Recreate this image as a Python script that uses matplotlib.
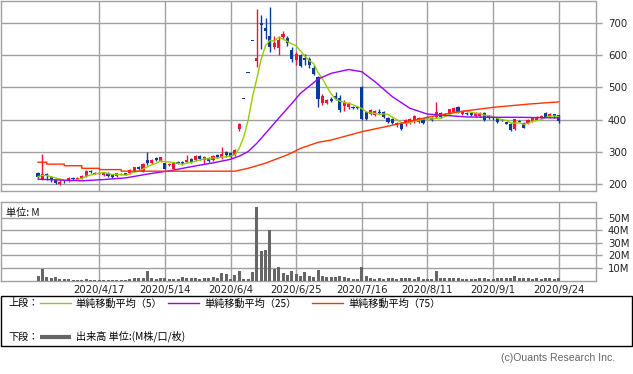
import matplotlib
matplotlib.use("Agg")
import matplotlib.pyplot as plt
import numpy as np
import pandas as pd
from matplotlib.lines import Line2D
from matplotlib.patches import Rectangle

# ---------------- data ----------------
opens = [232, 215, 229, 220, 212, 200, 210, 207, 218, 213,
         217, 225, 241, 234, 231, 226, 232, 227, 224, 232,
         232, 232, 240, 253, 238, 274, 265, 279, 270, 263,
         257, 247, 268, 268, 267, 277, 273, 286, 273, 281,
         275, 290, 279, 300, 296, 290, 370, 466, 546, 646,
         582, 700, 685, 660, 627, 623, 658, 655, 617, 584,
         600, 591, 590, 560, 532, 452, 453, 465, 474, 468,
         443, 438, 440, 438, 500, 422, 417, 415, 425, 423,
         406, 401, 383, 386, 386, 389, 394, 392, 404, 409,
         404, 409, 420, 418, 417, 425, 440, 417, 421, 419,
         411, 410, 420, 410, 408, 404, 401, 391, 385, 370,
         396, 390, 389, 394, 400, 404, 420, 407, 416, 413]
highs = [236, 293, 233, 225, 215, 210, 212, 222, 221, 221,
         226, 243, 244, 236, 236, 237, 238, 229, 234, 234,
         234, 245, 253, 256, 263, 298, 276, 284, 284, 266,
         264, 267, 271, 272, 288, 280, 288, 289, 285, 284,
         288, 293, 315, 303, 300, 308, 388, 466, 546, 646,
         746, 725, 715, 752, 660, 660, 675, 660, 627, 610,
         605, 604, 596, 570, 535, 480, 465, 470, 487, 475,
         462, 455, 443, 441, 505, 425, 432, 430, 433, 426,
         408, 404, 392, 390, 402, 405, 413, 408, 406, 412,
         408, 456, 424, 420, 434, 438, 442, 428, 423, 421,
         424, 422, 422, 413, 411, 406, 403, 393, 388, 403,
         400, 392, 401, 406, 410, 414, 423, 419, 418, 415]
lows = [217, 213, 213, 206, 198, 196, 203, 204, 212, 211,
        215, 222, 233, 229, 229, 224, 220, 218, 222, 228,
        226, 230, 238, 243, 236, 258, 262, 270, 268, 245,
        254, 245, 260, 259, 264, 266, 270, 275, 260, 268,
        272, 279, 277, 284, 279, 285, 365, 466, 546, 646,
        565, 620, 650, 610, 620, 600, 650, 630, 580, 570,
        563, 570, 560, 540, 440, 444, 448, 455, 460, 425,
        428, 432, 433, 432, 398, 398, 415, 410, 416, 405,
        388, 385, 378, 368, 380, 385, 390, 388, 386, 401,
        396, 405, 404, 410, 414, 422, 420, 414, 413, 411,
        409, 407, 396, 403, 400, 388, 395, 385, 364, 366,
        392, 373, 386, 391, 398, 402, 407, 405, 405, 390]
closes = [222, 230, 224, 211, 203, 206, 207, 218, 215, 219,
          224, 241, 235, 231, 233, 235, 224, 220, 232, 230,
          228, 243, 251, 245, 261, 264, 274, 274, 282, 247,
          262, 265, 262, 263, 273, 269, 286, 277, 283, 271,
          286, 282, 293, 288, 283, 304, 386, 466, 546, 646,
          591, 694, 676, 626, 637, 648, 666, 640, 590, 604,
          568, 586, 570, 543, 465, 473, 461, 459, 463, 430,
          452, 448, 436, 435, 401, 401, 430, 428, 420, 409,
          391, 389, 390, 372, 399, 402, 411, 405, 389, 404,
          399, 422, 407, 413, 432, 435, 423, 425, 416, 414,
          421, 419, 399, 406, 404, 391, 398, 387, 368, 401,
          395, 375, 399, 404, 408, 412, 409, 417, 410, 395]
volumes_m = [3.4, 9.5, 2.6, 1.9, 2.4, 1.5, 1.3, 1.2, 0.6, 0.5,
             0.5, 0.9, 0.6, 0.5, 0.4, 0.4, 0.4, 0.3, 0.3, 0.4,
             0.6, 1.3, 2.0, 1.6, 2.2, 7.4, 1.9, 1.5, 1.7, 2.1,
             1.3, 1.3, 0.8, 2.4, 1.6, 2.1, 2.1, 1.4, 2.0, 1.8,
             2.4, 1.6, 5.6, 4.8, 1.0, 4.5, 7.4, 0.8, 1.2, 6.6,
             58.2, 23.3, 24.1, 40.0, 9.3, 10.6, 6.1, 4.2, 7.4, 5.0,
             3.4, 6.4, 3.4, 2.6, 8.2, 3.4, 2.4, 2.4, 2.4, 3.4,
             2.4, 1.9, 1.3, 0.8, 10.6, 3.4, 1.9, 1.3, 1.6, 1.3,
             1.9, 1.9, 1.3, 1.9, 1.9, 1.6, 1.3, 2.4, 1.3, 1.3,
             0.8, 7.4, 1.6, 1.9, 1.9, 1.9, 1.6, 1.3, 1.3, 1.3,
             1.3, 1.6, 1.9, 1.3, 1.3, 1.6, 1.6, 1.9, 1.9, 3.2,
             2.1, 1.6, 1.9, 1.3, 1.6, 1.3, 1.9, 1.6, 1.3, 1.6]

# moving averages (trading-day index, price)
ma25_idx = [0, 10, 15, 20, 25, 30, 35, 40, 44, 46, 48, 50, 52, 55, 58, 60,
            64, 67, 71, 74, 77, 81, 85, 89, 92, 98, 104, 110, 119]
ma25_val = [214, 209, 213, 218, 230, 240, 253, 265, 276, 286, 300, 326, 357,
            404, 450, 482, 526, 544, 556, 549, 518, 471, 435, 417, 414, 408,
            407, 407, 405]
ma75_idx = [0, 2, 2, 6, 6, 10, 10, 14, 14, 19, 19, 45, 48, 52, 57, 60, 64,
            67, 74, 83, 89, 96, 104, 112, 119]
ma75_val = [267, 267, 261, 261, 256, 256, 248, 248, 244, 244, 239, 239, 248,
            264, 290, 310, 329, 336, 362, 388, 407, 424, 438, 448, 455]

date_ticks = [14, 29, 44, 59, 74, 89, 104, 119]
date_labels = ["2020/4/17", "2020/5/14", "2020/6/4", "2020/6/25",
               "2020/7/16", "2020/8/11", "2020/9/1", "2020/9/24"]
price_ticks = [200, 300, 400, 500, 600, 700]
vol_ticks = [10, 20, 30, 40, 50]
vol_labels = ["10M", "20M", "30M", "40M", "50M"]

# ---------------- styling ----------------
W, H = 633, 374
RED = "#F0143C"
BLUE = "#083C9C"
GRID = "#a0a0a0"
C5, C25, C75 = "#99CC00", "#9900FF", "#FF3300"
JP = ["Noto Sans CJK JP", "DejaVu Sans"]

def fx(x):
    return x / W

def fy(y):
    return 1 - y / H

fig = plt.figure(figsize=(W / 100, H / 100), dpi=100)

L, R = 1, 595.5
ax1 = fig.add_axes([fx(L), fy(190.7), fx(R) - fx(L), fy(0.5) - fy(190.7)])
ax2 = fig.add_axes([fx(L), fy(280.5), fx(R) - fx(L), fy(202.3) - fy(280.5)])

n = len(closes)
idx = np.arange(n)
o = np.array(opens, float)
c = np.array(closes, float)
h = np.array(highs, float)
lo = np.array(lows, float)
up = c > o
cols = np.where(up, RED, BLUE)

xmin = (L - 38.05) / 4.375
xmax = (R - 38.05) / 4.375

for ax in (ax1, ax2):
    ax.set_xlim(xmin, xmax)
    for s in ax.spines.values():
        s.set_color(GRID)
        s.set_linewidth(1.0)
    ax.set_axisbelow(True)
    ax.set_xticks(date_ticks)
    ax.grid(True, color=GRID, linewidth=1.0)
    ax.tick_params(axis="x", length=0)
    ax.yaxis.tick_right()
    ax.tick_params(axis="y", direction="out", length=4, width=1.0,
                   color=GRID, pad=5, labelsize=7.3, labelcolor="#222222")

# candles
ax1.vlines(idx, lo, h, colors=cols, linewidth=1.0, zorder=3)
body_h = np.maximum(np.abs(c - o), 2.6)
ax1.bar(idx, body_h, bottom=np.minimum(o, c) - np.where(np.abs(c - o) < 2.6, 1.3, 0),
        width=0.72, color=cols, linewidth=0, zorder=4)

ma5 = pd.Series(closes).rolling(5, min_periods=1).mean()
ax1.plot(idx, ma5, color=C5, linewidth=1.0, zorder=5)
ax1.plot(ma25_idx, ma25_val, color=C25, linewidth=1.0, zorder=5)
ax1.plot(ma75_idx, ma75_val, color=C75, linewidth=1.0, zorder=5)

ax1.set_ylim(178.2, 771)
ax1.set_yticks(price_ticks)
ax1.set_yticklabels([str(t) for t in price_ticks])
ax1.set_xticklabels([])

# volume
ax2.bar(idx, volumes_m, width=0.7, color="#666666", linewidth=0, zorder=3)
ax2.set_ylim(0, 62.2)
ax2.set_yticks(vol_ticks)
ax2.set_yticklabels(vol_labels)
ax2.set_xticklabels(date_labels, fontsize=7.3, color="#222222")
ax2.tick_params(axis="x", pad=3)
ax2.text(0.008, 0.93, "単位: M", transform=ax2.transAxes, ha="left", va="top",
         fontsize=7.3, family=JP, color="#111111")

# legend box
fig.add_artist(Rectangle((fx(0.5), fy(346.3)), fx(632) - fx(0.5), fy(295.7) - fy(346.3),
                         transform=fig.transFigure, fill=False, edgecolor="black",
                         linewidth=1.0))
ty1, ty2 = fy(303.3), fy(336.7)
fig.text(fx(8), ty1, "上段：", family=JP, fontsize=7.3, va="center", ha="left")
fig.text(fx(8), ty2, "下段：", family=JP, fontsize=7.3, va="center", ha="left")
for x0, x1, col, lab in [(40, 70.7, C5, "単純移動平均（5）"),
                         (168, 199, C25, "単純移動平均（25）"),
                         (312, 343, C75, "単純移動平均（75）")]:
    fig.add_artist(Line2D([fx(x0), fx(x1)], [ty1, ty1], color=col, linewidth=1.0,
                          transform=fig.transFigure))
    fig.text(fx(x1 + 5), ty1, lab, family=JP, fontsize=7.3, va="center", ha="left")
fig.add_artist(Line2D([fx(40), fx(70.7)], [ty2, ty2], color="#666666", linewidth=3.0,
                      transform=fig.transFigure, solid_capstyle="butt"))
fig.text(fx(75.7), ty2, "出来高 単位:(M株/口/枚)", family=JP, fontsize=7.3,
         va="center", ha="left")

fig.text(fx(615), fy(357.7), "(c)Ouants Research Inc.", family="Liberation Sans",
         fontsize=7.6, color="#666666", ha="right", va="center")

fig.savefig("out.png", dpi=100)
